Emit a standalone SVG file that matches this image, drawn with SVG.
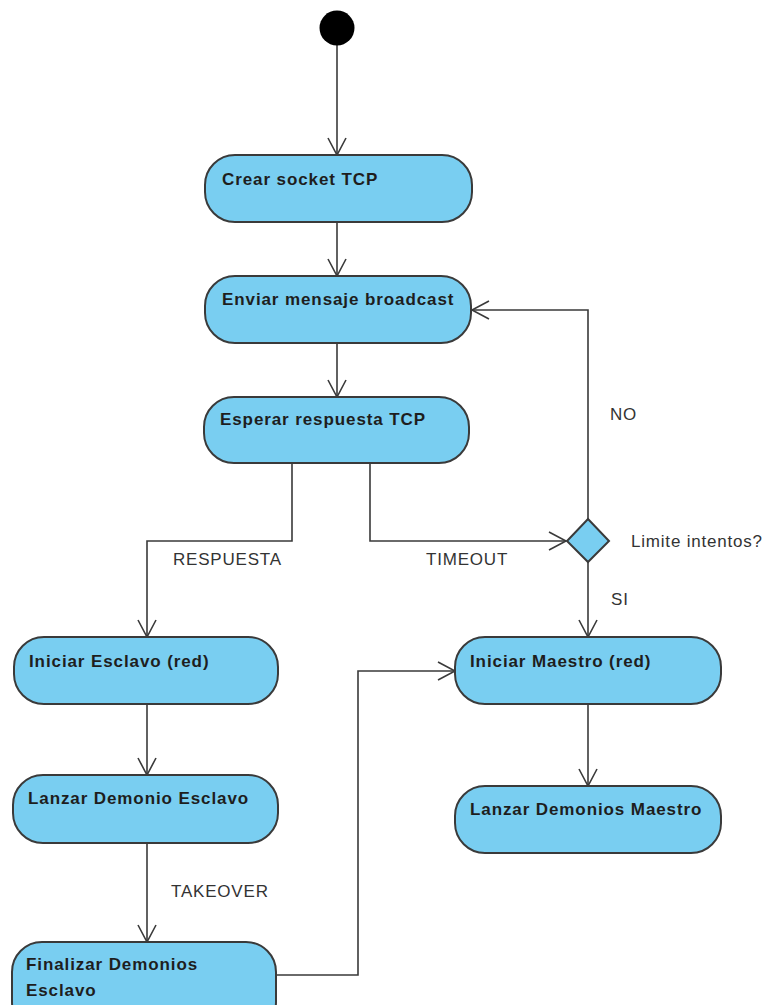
<svg xmlns="http://www.w3.org/2000/svg" width="765" height="1005" viewBox="0 0 765 1005">
<style>
.node{fill:#79CEF1;stroke:#3a3a3a;stroke-width:2}
.nt{font-family:"Liberation Sans",Arial,sans-serif;font-weight:bold;font-size:17px;letter-spacing:0.9px;fill:#1e1e1e}
.lbl{font-family:"Liberation Sans",Arial,sans-serif;font-size:17px;letter-spacing:0.8px;fill:#333}
.edge{fill:none;stroke:#3a3a3a;stroke-width:1.6;marker-end:url(#arr)}
</style>
<defs>
<marker id="arr" markerUnits="userSpaceOnUse" markerWidth="22" markerHeight="22" viewBox="-19 -11 22 22" refX="0" refY="0" orient="auto">
<path d="M-17,-9 L0,0 L-17,9" fill="none" stroke="#3a3a3a" stroke-width="1.6"/>
</marker>
</defs>
<rect width="765" height="1005" fill="#fff"/>
<g id="connectors">
<path class="edge" d="M337,45 V155"/>
<path class="edge" d="M337,222 V276"/>
<path class="edge" d="M337,343 V397"/>
<path class="edge" d="M292,463 V541 H147 V637"/>
<path class="edge" d="M370,463 V541 H566"/>
<path class="edge" d="M588,520 V310 H472"/>
<path class="edge" d="M588,562 V637"/>
<path class="edge" d="M147,704 V775"/>
<path class="edge" d="M588,704 V786"/>
<path class="edge" d="M147,843 V942"/>
<path class="edge" d="M277,975 H358 V671 H455"/>
</g>
<g id="labels">
<text class="lbl" x="173" y="565">RESPUESTA</text>
<text class="lbl" x="426" y="565">TIMEOUT</text>
<text class="lbl" x="610" y="420">NO</text>
<text class="lbl" x="631" y="547" letter-spacing="0.4">Limite intentos?</text>
<text class="lbl" x="611" y="605">SI</text>
<text class="lbl" x="171" y="897">TAKEOVER</text>
</g>
<g id="start"><circle cx="337" cy="28" r="17.5" fill="#000"/></g>
<g id="crear"><rect class="node" x="205" y="155" width="267" height="67" rx="30"/><text class="nt" x="222" y="185">Crear socket TCP</text></g>
<g id="enviar"><rect class="node" x="205" y="276" width="266" height="67" rx="30"/><text class="nt" x="222" y="305">Enviar mensaje broadcast</text></g>
<g id="esperar"><rect class="node" x="204" y="397" width="265" height="66" rx="30"/><text class="nt" x="220" y="425">Esperar respuesta TCP</text></g>
<g id="decision"><polygon points="588,519 609,541 588,562 567,541" fill="#79CEF1" stroke="#3a3a3a" stroke-width="2"/></g>
<g id="iniciarEsclavo"><rect class="node" x="14" y="637" width="264" height="67" rx="30"/><text class="nt" x="29" y="667">Iniciar Esclavo (red)</text></g>
<g id="iniciarMaestro"><rect class="node" x="455" y="637" width="266" height="67" rx="30"/><text class="nt" x="470" y="667">Iniciar Maestro (red)</text></g>
<g id="lanzarEsclavo"><rect class="node" x="13" y="775" width="265" height="68" rx="30"/><text class="nt" x="28" y="804">Lanzar Demonio Esclavo</text></g>
<g id="lanzarMaestro"><rect class="node" x="455" y="786" width="266" height="67" rx="30"/><text class="nt" x="470" y="815">Lanzar Demonios Maestro</text></g>
<g id="finalizar"><rect class="node" x="12" y="942" width="264" height="90" rx="30"/><text class="nt" x="26" y="970">Finalizar Demonios</text><text class="nt" x="26" y="996">Esclavo</text></g>
</svg>
